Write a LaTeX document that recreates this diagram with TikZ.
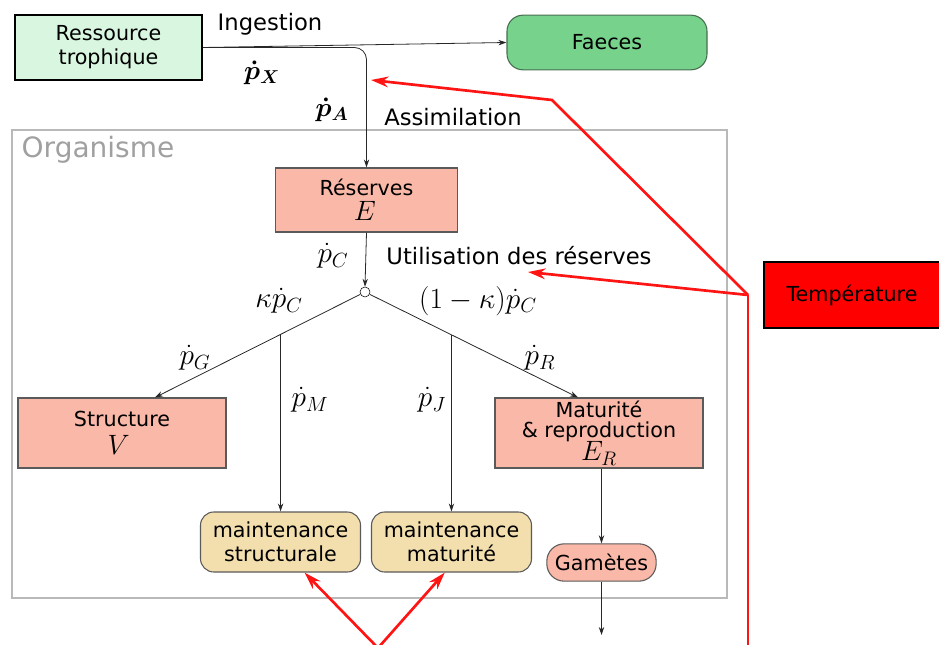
\RequirePackage{fix-cm}
\documentclass[tikz,border=0pt]{standalone}
\usepackage{amsmath}
\usepackage{fontspec}
\setmainfont{DejaVu Sans}
\usetikzlibrary{arrows.meta,calc}
\newcommand{\bigmath}[1]{{\fontsize{21}{21}\selectfont$#1$}}

\begin{document}
\begin{tikzpicture}[x=0.75pt,y=0.75pt,yscale=-1,
  flow/.style={draw={rgb, 255:red, 40; green, 40; blue, 40 },line width=0.6pt,-{Stealth[length=6pt,width=4pt]}},
  heat/.style={draw={rgb, 255:red, 255; green, 20; blue, 20 },line width=2pt},
  heatarrow/.style={heat,-{Stealth[length=13pt,width=8pt]}},
  box/.style={draw={rgb, 255:red, 90; green, 90; blue, 90 },line width=0.8pt,align=center,font=\fontsize{15.5}{18}\selectfont},
  stock/.style={box,fill={rgb, 255:red, 249; green, 184; blue, 168 },minimum width=156pt,minimum height=52.5pt},
  maint/.style={box,rounded corners=10pt,fill={rgb, 255:red, 243; green, 222; blue, 174 },minimum width=120pt,minimum height=45pt},
  lbl/.style={font=\fontsize{17}{20}\selectfont},
  mlbl/.style={font=\fontsize{22}{26}\selectfont}
]
\useasboundingbox (0,0) rectangle (939,645);

%Shape: Organisme [id:organisme]
\draw [draw={rgb, 255:red, 185; green, 185; blue, 185 },line width=1.2pt] (12,130) rectangle (727,598) ;
\node [font=\fontsize{21}{24}\selectfont,text={rgb, 255:red, 160; green, 160; blue, 160 }] (organisme) at (98,150) {Organisme};

%Shape: boxes
\node [box,draw=black,line width=1.4pt,fill={rgb, 255:red, 217; green, 247; blue, 224 },minimum width=140pt,minimum height=49pt] (ressource) at (108.5,47.5) {Ressource\\trophique};
\node [box,draw={rgb, 255:red, 70; green, 110; blue, 80 },rounded corners=12pt,fill={rgb, 255:red, 119; green, 210; blue, 140 },minimum width=150pt,minimum height=41pt] (faeces) at (607,42.5) {Faeces};
\node [stock,minimum width=136pt,minimum height=48pt,inner sep=1pt] (reserves) at (366.5,200) {R\'eserves\\[1pt]\bigmath{E}\,};
\node [draw,circle,fill=white,inner sep=0pt,minimum size=7.5pt] (split) at (365,292) {};
\node [stock,inner sep=1pt] (structure) at (122,433) {Structure\\[3pt]\bigmath{V}\,\,};
\node [stock,inner sep=1pt,font=\fontsize{15.5}{15}\selectfont] (maturite) at (599,433) {Maturit\'e\\\& reproduction\\[-1pt]\bigmath{E_R}};
\node [maint] (mstruct) at (280.5,542) {maintenance\\structurale};
\node [maint] (mmat) at (451.5,542) {maintenance\\maturit\'e};
\node [box,rounded corners=13pt,fill={rgb, 255:red, 249; green, 184; blue, 168 },minimum width=82pt,minimum height=28pt] (gametes) at (601.5,562.5) {Gam\`etes};
\node [box,draw=black,line width=1.4pt,fill={rgb, 255:red, 255; green, 0; blue, 0 },minimum width=132pt,minimum height=49.5pt] (temperature) at (852,295) {Temp\'erature};

%Straight Lines
\draw [flow] (ressource.east) -- (faeces.west) ;
\draw [flow,rounded corners=9pt] (ressource.east) -| (reserves.north) ;
\draw [flow] (reserves.south) -- (split.north) ;
\coordinate (tipG) at ([xshift=24.75pt]structure.north) ;
\coordinate (tipR) at ([xshift=-15.75pt]maturite.north) ;
\draw [flow] (split) -- (tipG) ;
\draw [flow] (split) -- (tipR) ;
\coordinate (brM) at ($(split)!0.402!(tipG)$) ;
\coordinate (brJ) at ($(split)!0.406!(tipR)$) ;
\draw [flow] (brM) -- (brM |- mstruct.north) ;
\draw [flow] (brJ) -- (brJ |- mmat.north) ;
\draw [flow] (maturite.south -| gametes.north) -- (gametes.north) ;
\coordinate (sortie) at (601.5,635) ;
\draw [flow] (gametes.south) -- (sortie) ;

%Red lines
\coordinate (tj) at (748,295) ;
\coordinate (coude) at (552,100) ;
\coordinate (tA) at (371,80) ;
\coordinate (tU) at (528,272) ;
\coordinate (bas) at (748,645) ;
\coordinate (pointe) at (378,648) ;
\draw [heatarrow] (tj) -- (coude) -- (tA) ;
\draw [heatarrow] (tj) -- (tU) ;
\draw [heat] (tj) -- (bas) ;
\draw [heatarrow] (pointe) -- ([xshift=18pt]mstruct.south) ;
\draw [heatarrow] (pointe) -- ([xshift=-5pt]mmat.south) ;

% Text Node
\node [lbl] (ingestion) at (270,24) {Ingestion};
\node [font=\fontsize{20}{24}\selectfont] (px) at (262,73) {$\boldsymbol{\dot p_X}$};
\node [font=\fontsize{20}{24}\selectfont] (pa) at (332,110) {$\boldsymbol{\dot p_A}$};
\node [lbl] (assimilation) at (453,117) {Assimilation};
\node [mlbl] (pc) at (333,256) {$\dot p_C$};
\node [lbl] (utilisation) at (519,256) {Utilisation des r\'eserves};
\node [mlbl] (kpc) at (279,301) {$\kappa\dot p_C$};
\node [mlbl] (ukpc) at (478,301) {$(1-\kappa)\dot p_C$};
\node [mlbl] (pg) at (195,358) {$\dot p_G$};
\node [mlbl] (pm) at (310,400) {$\dot p_M$};
\node [mlbl] (pj) at (432,400) {$\dot p_J$};
\node [mlbl] (pr) at (540,358) {$\dot p_R$};

\end{tikzpicture}
\end{document}
